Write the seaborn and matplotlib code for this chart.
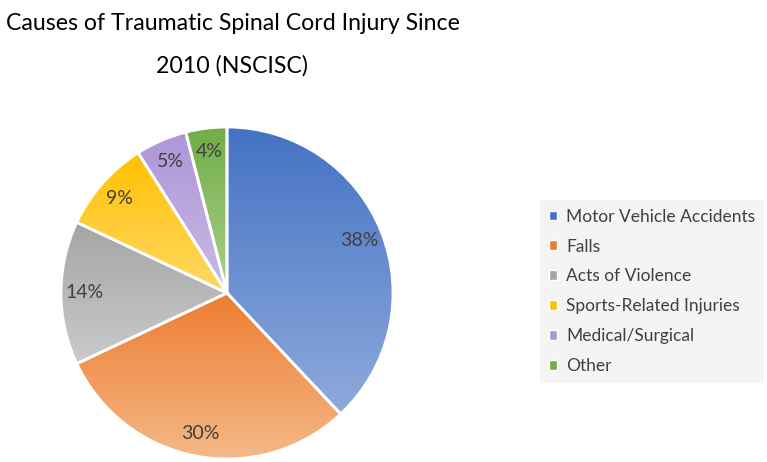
import numpy as np
import seaborn as sns
import matplotlib.pyplot as plt
from matplotlib.patches import Patch
from matplotlib.colors import to_rgb

# date
cauze = ['Motor Vehicle Accidents', 'Falls', 'Acts of Violence',
         'Sports-Related Injuries', 'Medical/Surgical', 'Other']
procente = [38, 30, 14, 9, 5, 4]
culori_sus = ['#4472C4', '#ED7D31', '#A5A5A5', '#FFC000', '#AE95D8', '#70AD47']
culori_jos = ['#8FAADC', '#F5B887', '#CACACA', '#FFD966', '#C9BAE5', '#A9D18E']

sns.set_theme(style='white')
plt.rcParams['font.family'] = ['Lato', 'DejaVu Sans']

fig = plt.figure(figsize=(7.67, 4.62), dpi=100)
W, H = 767, 462
cx, cy, R = 227, 293, 166
lim = 1.02
ax = fig.add_axes([(cx - R * lim) / W, (H - cy - R * lim) / H, 2 * R * lim / W, 2 * R * lim / H])

wedges, _, texte = ax.pie(procente, startangle=90, counterclock=False,
                          labels=None, autopct=lambda p: f'{p:.0f}%', pctdistance=0.86,
                          wedgeprops=dict(edgecolor='white', linewidth=2),
                          textprops=dict(color='#404040', fontsize=14))

# umplere cu gradient vertical pentru fiecare felie
for w, c1, c2 in zip(wedges, culori_sus, culori_jos):
    ext = w.get_path().get_extents(w.get_patch_transform())
    n = 100
    t = np.linspace(0, 1, n)[:, None]
    a, b = np.array(to_rgb(c1)), np.array(to_rgb(c2))
    grad = (a[None, :] * (1 - t) + b[None, :] * t)[:, None, :]
    im = ax.imshow(grad, extent=[ext.x0, ext.x1, ext.y0, ext.y1], origin='upper',
                   aspect='auto', zorder=1, interpolation='bilinear')
    im.set_clip_path(w)
    w.set_facecolor('none')
    w.set_zorder(2)
for t_ in texte:
    t_.set_zorder(3)

ax.set_xlim(-lim, lim)
ax.set_ylim(-lim, lim)
ax.set_aspect('auto')
ax.axis('off')

# titlul
fig.text(233 / W, 1 - 24 / H, 'Causes of Traumatic Spinal Cord Injury Since',
         ha='center', va='center', fontsize=16.7, color='black')
fig.text(232 / W, 1 - 66 / H, '2010 (NSCISC)',
         ha='center', va='center', fontsize=16.7, color='black')

# legenda
handles = [Patch(facecolor=c, edgecolor='white', linewidth=1) for c in culori_sus]
leg = fig.legend(handles, cauze, loc='upper left', bbox_to_anchor=(540 / W, 1 - 200 / H),
                 frameon=True, fontsize=12.5, labelspacing=0.8, handlelength=0.5,
                 handleheight=0.5, handletextpad=0.5, borderpad=0.5, borderaxespad=0,
                 labelcolor='#404040', fancybox=False)
leg.get_frame().set_facecolor('#F2F2F2')
leg.get_frame().set_edgecolor('none')

fig.savefig('out.png', dpi=100)
